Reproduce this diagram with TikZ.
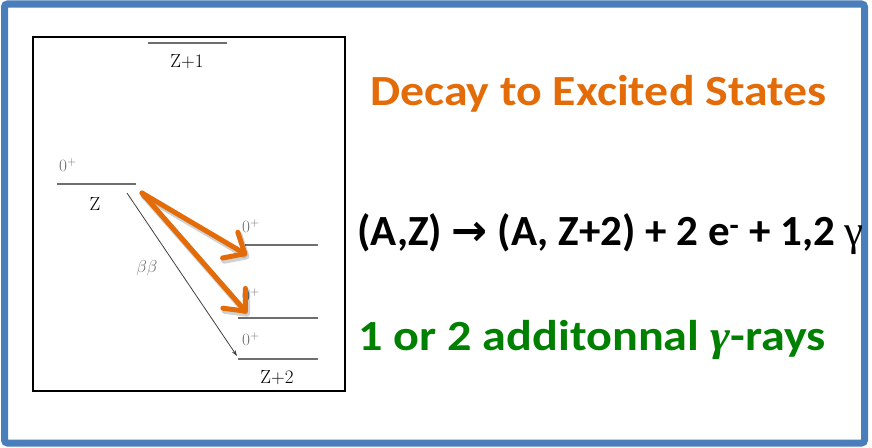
\documentclass[tikz,border=0pt]{standalone}
\usepackage{fontspec}
\usetikzlibrary{arrows.meta,calc}
\newfontfamily\carlito{Carlito}
\newfontfamily\gserif{Liberation Serif}
\newfontfamily\djv{DejaVu Sans}
\definecolor{frameblue}{HTML}{4A7EBB}
\definecolor{dorange}{HTML}{E36C09}
\definecolor{dgreen}{HTML}{008000}
\definecolor{lvlgray}{HTML}{6E6E6E}
\begin{document}
\begin{tikzpicture}[x=1pt,y=-1pt,
  level/.style={draw=lvlgray, line width=1.2pt},
  spin/.style={text=lvlgray, inner sep=0pt, font=\fontsize{17}{17}\selectfont},
  nuc/.style={text=black, inner sep=0pt, font=\fontsize{19}{19}\selectfont},
  orarrow/.style={draw=dorange, line width=5pt, line cap=round,
     -{Straight Barb[length=17pt, width=30pt, line width=5pt, round]}},
  orshadow/.style={draw=black, opacity=0.18, line width=6pt, line cap=round,
     -{Straight Barb[length=17pt, width=30pt, line width=6pt, round]}},
  bigtext/.style={inner sep=0pt, anchor=base west, font=\carlito\bfseries}]
\useasboundingbox (0,0) rectangle (872,447);
\fill[white] (0,0) rectangle (872,447);
% outer frame
\draw[frameblue, line width=7pt, rounded corners=3pt] (4.5,4) rectangle (864.5,443);
% inner box
\draw[black, line width=2pt] (33,37) rectangle (345,391);
% levels
\coordinate (zp1a) at (148,43); \coordinate (zp1b) at (227,43);
\draw[level] (zp1a) -- (zp1b);
\node[nuc] (lz1) at (187,62) {Z+1};
\coordinate (za) at (57,184); \coordinate (zb) at (136,184);
\draw[level] (za) -- (zb);
\node[spin] (sz) at (68,165) {$0^+$};
\node[nuc] (lz) at (95,204) {Z};
\coordinate (e1a) at (245,245); \coordinate (e1b) at (318,245);
\draw[level] (e1a) -- (e1b);
\node[spin] (s1) at (251,226) {$0^+$};
\coordinate (e2a) at (238,318); \coordinate (e2b) at (318,318);
\draw[level] (e2a) -- (e2b);
\node[spin] (s2) at (251,295) {$0^+$};
\coordinate (ga) at (238,359); \coordinate (gb) at (318,359);
\draw[level] (ga) -- (gb);
\node[spin] (sg) at (251,339) {$0^+$};
\node[nuc] (lz2) at (277,378) {Z+2};
% beta beta arrow
\coordinate (bbs) at (127,193); \coordinate (bbe) at (237,356);
\draw[draw=black!75, line width=0.8pt, -{Stealth[length=6pt,width=4pt]}] (bbs) -- (bbe);
\node[spin] (bb) at (147,268) {$\beta\beta$};
% orange arrows
\coordinate (os) at (142,193);
\coordinate (oe1) at (247,255);
\coordinate (oe2) at (247,313);
\draw[orshadow] ($(os)+(2,3)$) -- ($(oe1)+(2,3)$);
\draw[orshadow] ($(os)+(2,3)$) -- ($(oe2)+(2,3)$);
\draw[orarrow] (os) -- (oe1);
\draw[orarrow] (os) -- (oe2);
% texts
\node[bigtext, text=dorange, font=\carlito\bfseries\fontsize{43}{43}\selectfont] (title) at (370,105) {\scalebox{1.112}[1]{Decay to Excited States}};
\node[bigtext, text=black, font=\carlito\bfseries\fontsize{43}{43}\selectfont] (eq) at (357,245) {(A,Z) {\djv\bfseries →} (A, Z+2) + 2 e\textsuperscript{-} + 1,2 {\gserif\mdseries γ}};
\node[bigtext, text=dgreen, font=\carlito\bfseries\fontsize{43}{43}\selectfont] (gr) at (358,350) {\scalebox{1.12}[1]{1 or 2 additonnal {\gserif\itshape γ}-rays}};
\end{tikzpicture}
\end{document}
